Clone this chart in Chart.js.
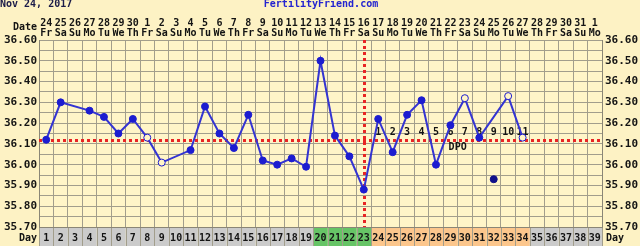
<!DOCTYPE html>
<html>
<head>
<meta charset="utf-8">
<script src="https://cdn.jsdelivr.net/npm/chart.js@4/dist/chart.umd.min.js"></script>
<style>
  html, body { margin: 0; padding: 0; background: #fdf2c4; }
  canvas { display: block; }
</style>
</head>
<body>
<canvas id="bbt-chart" width="640" height="246"></canvas>
<script>
// BBT chart (FertilityFriend style): temps per cycle day, coverline, ovulation line, DPO labels.
(function () {
  "use strict";

  const cycleDays = ["1", "2", "3", "4", "5", "6", "7", "8", "9", "10", "11", "12", "13",
    "14", "15", "16", "17", "18", "19", "20", "21", "22", "23", "24", "25", "26",
    "27", "28", "29", "30", "31", "32", "33", "34", "35", "36", "37", "38", "39"];

  const dates = ["24", "25", "26", "27", "28", "29", "30", "1", "2", "3", "4", "5", "6",
    "7", "8", "9", "10", "11", "12", "13", "14", "15", "16", "17", "18", "19",
    "20", "21", "22", "23", "24", "25", "26", "27", "28", "29", "30", "31", "1"];

  const weekdays = ["Fr", "Sa", "Su", "Mo", "Tu", "We", "Th", "Fr", "Sa", "Su", "Mo", "Tu", "We",
    "Th", "Fr", "Sa", "Su", "Mo", "Tu", "We", "Th", "Fr", "Sa", "Su", "Mo", "Tu",
    "We", "Th", "Fr", "Sa", "Su", "Mo", "Tu", "We", "Th", "Fr", "Sa", "Su", "Mo"];

  // n = normal, f = fertile, l = luteal
  const dayPhase = ["n", "n", "n", "n", "n", "n", "n", "n", "n", "n", "n", "n", "n",
    "n", "n", "n", "n", "n", "n", "f", "f", "f", "f", "l", "l", "l",
    "l", "l", "l", "l", "l", "l", "l", "l", "n", "n", "n", "n", "n"];

  const temps = [36.12, 36.30, null, 36.26, 36.23, 36.15, 36.22, 36.13, 36.01, null, 36.07, 36.28, 36.15,
    36.08, 36.24, 36.02, 36.00, 36.03, 35.99, 36.50, 36.14, 36.04, 35.88, 36.22, 36.06, 36.24,
    36.31, 36.00, 36.19, 36.32, 36.13, null, 36.33, 36.13, null, null, null, null, null];

  // discarded temp, drawn but not joined
  const discarded = [null, null, null, null, null, null, null, null, null, null, null, null, null,
    null, null, null, null, null, null, null, null, null, null, null, null, null,
    null, null, null, null, null, 35.93, null, null, null, null, null, null, null];

  const hollowDays = [8, 9, 30, 33, 34];
  const coverline = 36.12;
  const ovulationDay = 23;
  const dpoLabels = ["1", "2", "3", "4", "5", "6", "7", "8", "9", "10", "11"];
  const dpoStartDay = 24;

  const gridTemps = [35.70, 35.75, 35.80, 35.85, 35.90, 35.95, 36.00, 36.05, 36.10,
    36.15, 36.20, 36.25, 36.30, 36.35, 36.40, 36.45, 36.50, 36.55, 36.60];
  const yLabels = ["35.70", "35.80", "35.90", "36.00", "36.10", "36.20", "36.30",
    "36.40", "36.50", "36.60"];

  const PAGE_BG = "#fdf2c4";
  const PLOT_BG = "#fff5c8";
  const GRID = "#a29e8c";
  const BLUE = "#1c1cd0";
  const LINE = "#3434d2";
  const RED = "#e82424";
  const TXT = "#141414";
  const FONT = "'DejaVu Sans Mono', monospace";
  const PHASE_COLORS = { n: "#cbcbcb", f: "#66c466", l: "#fcc68c" };

  const decor = {
    id: "decor",
    beforeDraw(chart) {
      const { ctx, chartArea: a, scales: { x } } = chart;
      ctx.save();
      ctx.fillStyle = PAGE_BG;
      ctx.fillRect(0, 0, chart.width, chart.height);
      ctx.fillStyle = PLOT_BG;
      ctx.fillRect(a.left, a.top, a.width, a.height);
      const half = (x.getPixelForValue(1) - x.getPixelForValue(0)) / 2;
      dayPhase.forEach((p, i) => {
        const cx = x.getPixelForValue(i);
        ctx.fillStyle = PHASE_COLORS[p];
        ctx.fillRect(cx - half, a.bottom, half * 2, chart.height - a.bottom);
      });
      ctx.strokeStyle = GRID;
      ctx.lineWidth = 1;
      for (let i = 0; i <= dayPhase.length; i++) {
        const lx = Math.round(x.getPixelForValue(i) - half) + 0.5;
        ctx.beginPath();
        ctx.moveTo(lx, a.bottom);
        ctx.lineTo(lx, chart.height);
        ctx.stroke();
      }
      ctx.restore();
    },
    beforeDatasetsDraw(chart) {
      const { ctx, chartArea: a, scales: { x, y } } = chart;
      ctx.save();
      ctx.strokeStyle = RED;
      ctx.lineWidth = 3;
      ctx.setLineDash([3, 3]);
      const cy = Math.round(y.getPixelForValue(coverline)) + 0.5;
      ctx.beginPath();
      ctx.moveTo(a.left, cy);
      ctx.lineTo(a.right, cy);
      ctx.stroke();
      const ox = Math.round(x.getPixelForValue(ovulationDay - 1)) + 0.5;
      ctx.beginPath();
      ctx.moveTo(ox, a.top);
      ctx.lineTo(ox, a.bottom);
      ctx.stroke();

      ctx.setLineDash([]);
      ctx.fillStyle = TXT;
      ctx.font = "bold 10px " + FONT;
      ctx.textAlign = "center";
      ctx.textBaseline = "middle";
      dpoLabels.forEach((t, i) => {
        ctx.fillText(t, x.getPixelForValue(dpoStartDay - 1 + i), cy - 8);
      });
      const dx = (x.getPixelForValue(28) + x.getPixelForValue(29)) / 2;
      ctx.fillText("DPO", dx, cy + 7);
      ctx.restore();
    },
    afterDraw(chart) {
      const { ctx, chartArea: a } = chart;
      ctx.save();
      ctx.font = "bold 10px " + FONT;
      ctx.textBaseline = "middle";
      ctx.fillStyle = "#1a1a48";
      ctx.textAlign = "left";
      ctx.fillText("Nov 24, 2017", 0, 4);
      ctx.fillStyle = "#2424d0";
      ctx.textAlign = "center";
      ctx.fillText("FertilityFriend.com", 321, 4);
      ctx.fillStyle = TXT;
      ctx.textAlign = "right";
      ctx.fillText("Date", a.left - 2, 27);
      ctx.fillText("Day", a.left - 2, 238);
      ctx.textAlign = "left";
      ctx.fillText("Day", a.right + 4, 238);
      ctx.restore();
    },
  };

  const yTick = (v) => {
    const s = Number(v).toFixed(2);
    return yLabels.includes(s) ? s : "";
  };

  new Chart(document.getElementById("bbt-chart"), {
    type: "line",
    data: {
      labels: cycleDays,
      datasets: [
        {
          data: temps,
          borderColor: LINE,
          borderWidth: 2,
          spanGaps: true,
          tension: 0,
          pointRadius: 3.5,
          pointBorderWidth: 1,
          pointBorderColor: BLUE,
          pointBackgroundColor: (c) => (hollowDays.includes(c.dataIndex + 1) ? PLOT_BG : BLUE),
          segment: {
            borderDash: (c) => (c.p1DataIndex - c.p0DataIndex > 1 ? [4, 3] : undefined),
          },
        },
        {
          data: discarded,
          showLine: false,
          pointRadius: 3.5,
          pointBorderWidth: 1,
          pointBorderColor: "#10108a",
          pointBackgroundColor: "#10108a",
        },
      ],
    },
    options: {
      responsive: false,
      animation: false,
      devicePixelRatio: 1,
      layout: { padding: 0 },
      plugins: { legend: { display: false }, tooltip: { enabled: false } },
      scales: {
        x: {
          position: "bottom",
          offset: true,
          grid: { offset: true, color: GRID, drawTicks: false },
          border: { color: "#8a8676" },
          ticks: {
            autoSkip: false, maxRotation: 0, padding: 5, color: TXT,
            font: { family: FONT, size: 10, weight: "bold" },
          },
          afterFit: (s) => { s.height = 19; },
        },
        xt: {
          type: "category",
          position: "top",
          labels: dates.map((d, i) => [d, weekdays[i]]),
          offset: true,
          grid: { display: false, drawTicks: false },
          border: { display: false },
          ticks: {
            autoSkip: false, maxRotation: 0, padding: 1, color: TXT,
            font: { family: FONT, size: 10, weight: "bold", lineHeight: 1.05 },
          },
          afterFit: (s) => { s.height = 40; },
        },
        y: {
          position: "left",
          min: 35.7,
          max: 36.6,
          afterBuildTicks: (s) => { s.ticks = gridTemps.map((v) => ({ value: v })); },
          grid: { color: GRID, drawTicks: false },
          border: { color: "#8a8676" },
          ticks: {
            padding: 2, color: TXT, callback: yTick, autoSkip: false,
            font: { family: FONT, size: 11, weight: "bold" },
          },
          afterFit: (s) => { s.width = 39; },
        },
        y2: {
          position: "right",
          min: 35.7,
          max: 36.6,
          afterBuildTicks: (s) => { s.ticks = gridTemps.map((v) => ({ value: v })); },
          grid: { display: false, drawTicks: false },
          border: { color: "#8a8676" },
          ticks: {
            padding: 3, color: TXT, callback: yTick, autoSkip: false,
            font: { family: FONT, size: 11, weight: "bold" },
          },
          afterFit: (s) => { s.width = 38; },
        },
      },
    },
    plugins: [decor],
  });
})();
</script>
</body>
</html>
